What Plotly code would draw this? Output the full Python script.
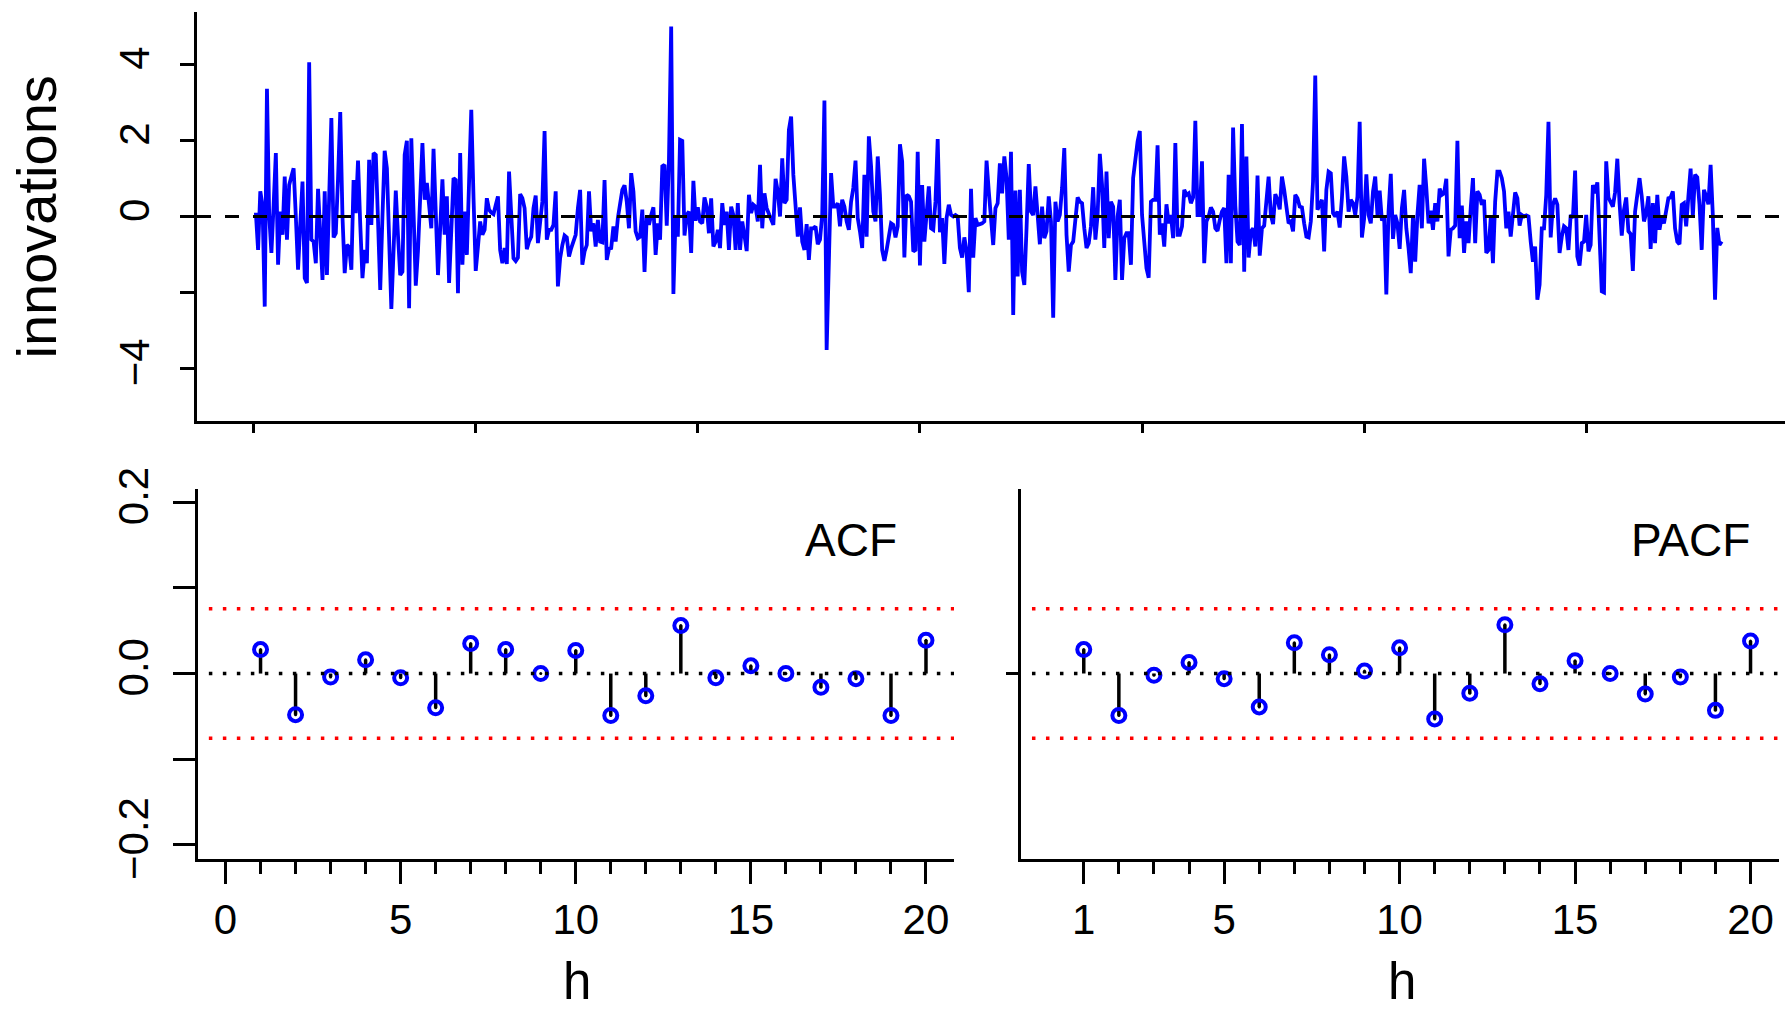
import plotly.graph_objects as go

# ---------------- data ----------------
innov = [
 0.10,-0.88,0.66,0.30,-2.37,3.36,0.04,-0.96,0.30,1.67,
 -1.27,0.13,-0.48,1.05,-0.61,0.83,1.05,1.27,0.00,-1.40,
 -0.20,0.92,-1.62,-1.75,4.06,-0.61,-0.66,-1.23,0.73,-0.50,
 -1.67,0.66,-1.54,0.50,2.59,-0.55,-0.44,1.00,2.75,0.00,
 -1.49,-0.75,-0.80,-1.40,0.96,0.09,1.47,-0.20,-1.62,-0.88,
 -1.23,1.49,-0.22,1.67,1.62,-0.10,-1.93,0.00,1.73,1.27,
 -0.60,-2.43,-0.90,0.68,-0.50,-1.54,-1.45,1.62,1.99,-2.41,
 2.06,0.20,-1.82,-0.90,0.50,1.93,0.44,0.88,0.30,-0.31,
 1.78,0.10,-1.54,-0.30,0.98,-0.48,0.53,-1.75,-0.30,1.01,
 0.96,-2.02,1.67,-1.27,0.13,-1.01,0.90,2.81,0.50,-1.43,
 -0.80,-0.13,-0.48,-0.35,0.48,0.18,0.10,0.06,0.30,0.53,
 -0.88,-1.23,-0.83,-1.25,1.18,0.22,-1.10,-1.17,-1.08,0.59,
 0.48,0.22,-0.86,-0.66,-0.53,0.22,0.55,-0.70,-0.06,0.39,
 2.25,-0.61,-0.35,-0.35,-0.22,0.66,-1.84,-1.10,-0.75,-0.50,
 -0.55,-1.05,-0.83,-0.66,-0.48,0.22,0.70,-1.27,-0.92,-0.75,
 0.66,-0.39,-0.18,-0.79,-0.09,-0.66,-0.68,0.96,-1.14,-0.85,
 -0.83,-0.26,-0.66,-0.04,0.39,0.70,0.82,0.39,-0.31,1.14,
 0.66,-0.39,-0.57,-0.53,0.18,-1.46,0.00,-0.22,0.04,0.24,
 -1.01,-0.18,-0.61,1.32,1.36,-0.24,1.50,5.00,-2.04,0.04,
 -0.53,2.02,1.99,-0.50,0.04,0.13,-0.96,0.94,-0.11,0.24,
 -0.13,-0.18,0.50,0.26,-0.44,0.48,-0.79,-0.66,-0.35,-0.83,
 0.35,-0.22,0.13,-0.88,0.26,0.04,-0.88,0.35,-0.88,-0.13,
 -0.50,-0.91,0.57,0.09,0.31,0.26,-0.13,1.36,-0.31,0.61,
 0.22,0.09,-0.10,-0.22,0.99,0.66,0.00,1.53,0.35,0.44,
 2.28,2.63,1.10,0.13,-0.53,0.24,-0.66,-0.88,-0.20,-1.14,
 -0.31,-0.31,-0.26,-0.73,-0.61,0.04,3.05,-3.51,-1.00,1.14,
 0.26,0.26,0.35,-0.26,0.44,0.26,-0.13,-0.35,0.39,0.75,
 1.47,-0.04,-0.39,-0.83,1.10,-0.53,2.11,1.32,0.13,-0.13,
 1.58,0.57,-0.88,-1.17,-0.88,-0.48,-0.18,-0.22,-0.55,-0.26,
 1.90,1.45,-1.08,0.57,0.53,0.39,-0.92,-0.88,1.70,-1.29,
 0.83,-0.66,-0.04,0.79,-0.31,-0.35,0.39,2.04,-0.41,-0.04,
 -1.25,-0.04,0.31,0.04,0.00,0.04,0.00,-0.83,-1.08,-0.55,
 -0.92,-1.99,0.73,-1.08,-0.04,-0.22,-0.20,-0.18,-0.13,1.47,
 0.66,0.00,-0.75,0.22,0.35,1.40,0.61,1.58,1.01,-0.61,
 1.70,-2.59,0.68,-1.58,0.70,-1.45,-1.80,-0.31,1.38,0.13,
 0.04,0.79,-0.13,-0.73,0.26,-0.57,-0.39,0.53,-0.13,-2.66,
 0.39,-0.13,0.04,0.75,1.80,-0.48,-1.45,-0.75,-0.66,-0.13,
 0.50,0.39,0.35,-0.31,-0.83,-0.70,-0.26,0.77,-0.61,0.04,
 1.65,0.83,-0.83,1.18,-0.57,0.39,0.26,-1.67,0.00,0.44,
 -1.67,-0.57,-0.44,-0.44,-1.27,1.01,1.53,1.97,2.25,0.04,
 -0.66,-1.36,-1.61,0.39,0.44,0.44,1.87,-0.48,-0.18,-0.79,
 0.32,-0.18,0.04,-0.57,1.93,-0.48,-0.48,-0.26,0.70,0.57,
 0.61,0.35,0.50,2.52,0.04,0.04,1.45,-1.23,-0.13,0.00,
 0.24,0.13,-0.31,-0.38,-0.09,0.13,0.22,-1.23,1.10,-1.23,
 2.34,0.30,-0.66,-0.75,2.43,-1.45,1.58,-1.08,-0.39,-0.31,
 -0.79,1.08,-1.03,-0.31,-0.24,0.39,1.05,0.04,-0.20,0.59,
 0.44,0.19,1.05,0.70,0.32,-0.18,-0.13,-0.39,0.57,0.48,
 0.26,0.24,-0.18,-0.53,-0.55,-0.13,0.92,3.71,0.18,0.31,
 0.44,-0.92,0.70,1.18,1.14,0.09,0.00,0.13,-0.29,0.48,
 1.58,1.05,0.13,0.44,0.35,0.04,0.53,2.49,-0.55,-0.06,
 1.11,0.04,-0.18,0.66,1.05,0.04,0.68,-0.11,0.00,-2.05,
 0.13,1.12,-0.59,0.04,-0.18,-0.85,0.22,0.70,-0.31,-0.83,
 -1.49,0.03,-1.19,0.04,0.83,-0.31,1.52,0.75,-0.18,0.15,
 -0.35,0.35,-0.13,0.73,0.57,0.61,0.99,-1.05,-0.35,-0.31,
 -0.24,1.99,-0.57,0.29,-0.96,-0.13,-0.70,0.22,1.01,-0.70,
 0.66,0.57,0.31,0.44,-0.96,-0.88,-0.04,-1.23,0.39,1.18,
 1.18,1.01,0.66,-0.31,0.13,-0.53,0.13,0.63,0.48,-0.24,
 0.04,0.00,0.03,0.00,-0.66,-1.19,-0.79,-2.19,-1.80,-0.31,
 -0.31,0.57,2.49,-0.55,0.31,0.48,0.31,-0.96,-0.53,-0.26,
 -0.31,-0.88,0.04,-0.04,1.21,-1.05,-1.29,-0.70,-0.66,0.04,
 -0.92,-0.75,0.83,0.61,0.90,-0.83,-1.97,-2.00,1.45,0.50,
 0.39,0.26,0.64,1.52,0.35,-0.50,0.18,0.50,-0.39,-0.46,
 -1.43,0.13,0.57,1.01,0.53,-0.13,0.09,0.53,-0.85,0.35,
 -0.70,0.57,-0.35,0.00,-0.18,0.13,0.48,0.50,0.66,-0.31,
 -0.66,-0.73,0.31,0.35,-0.26,0.53,1.26,0.00,1.10,1.03,
 0.31,-0.88,0.70,0.53,0.32,1.36,0.04,-2.19,-0.30,-0.75,
 -0.66,
]
time_idx = list(range(1, len(innov) + 1))

lags = list(range(1, 21))
acf_vals = [0.028, -0.048, -0.004, 0.016, -0.005, -0.040, 0.035, 0.028, 0.000, 0.027,
            -0.049, -0.026, 0.056, -0.005, 0.009, 0.000, -0.016, -0.006, -0.049, 0.039]
pacf_vals = [0.028, -0.049, -0.002, 0.013, -0.006, -0.039, 0.036, 0.022, 0.003, 0.030,
             -0.053, -0.023, 0.057, -0.012, 0.015, 0.000, -0.024, -0.004, -0.043, 0.038]
conf_bound = 0.0757

top_xticks = [0, 100, 200, 300, 400, 500, 600]
top_yticks = [-4, -2, 0, 2, 4]
top_yticktext = ["\u22124", "", "0", "2", "4"]
acf_yticks = [-0.2, -0.1, 0.0, 0.1, 0.2]
acf_yticktext = ["\u22120.2", "", "0.0", "", "0.2"]
acf_xticks = [0, 5, 10, 15, 20]
pacf_xticks = [1, 5, 10, 15, 20]

# ---------------- layout helpers ----------------
W, H = 1790, 1012
FONT = "Liberation Sans, Arial, Helvetica, sans-serif"
BLUE = "#0000FF"


def px(x):
    return x / W


def py(y):
    return 1 - y / H


fig = go.Figure()

# top: innovations series
fig.add_trace(go.Scatter(x=time_idx, y=innov, mode="lines",
                         line=dict(color=BLUE, width=3.8),
                         xaxis="x", yaxis="y", hoverinfo="skip"))


def stems(xs, ys):
    sx, sy = [], []
    for a, b in zip(xs, ys):
        sx += [a, a, None]
        sy += [0, b, None]
    return sx, sy


for vals, xa, ya in [(acf_vals, "x2", "y2"), (pacf_vals, "x3", "y3")]:
    sx, sy = stems(lags, vals)
    fig.add_trace(go.Scatter(x=sx, y=sy, mode="lines",
                             line=dict(color="black", width=3.5),
                             xaxis=xa, yaxis=ya, hoverinfo="skip"))
    fig.add_trace(go.Scatter(x=lags, y=vals, mode="markers",
                             marker=dict(symbol="circle-open", size=13,
                                         color=BLUE, line=dict(color=BLUE, width=4)),
                             xaxis=xa, yaxis=ya, hoverinfo="skip"))
    fig.add_trace(go.Scatter(x=lags, y=vals, mode="markers",
                             marker=dict(symbol="circle", size=3, color="black"),
                             xaxis=xa, yaxis=ya, hoverinfo="skip"))

shapes = [
    dict(type="line", xref="x domain", x0=0, x1=1, yref="y", y0=0, y1=0,
         line=dict(color="black", width=3.2, dash="14px,14px")),
]
for xa, ya in [("x2", "y2"), ("x3", "y3")]:
    shapes.append(dict(type="line", xref=xa + " domain", x0=0.015, x1=1, yref=ya, y0=0, y1=0,
                       line=dict(color="black", width=3.5, dash="3.5px,10.5px")))
    for s in (conf_bound, -conf_bound):
        shapes.append(dict(type="line", xref=xa + " domain", x0=0.015, x1=1, yref=ya, y0=s, y1=s,
                           line=dict(color="red", width=3.5, dash="3.5px,10.5px")))

axis_common = dict(showgrid=False, zeroline=False, showline=True, linecolor="black",
                   linewidth=3, ticks="outside", tickcolor="black", tickwidth=3,
                   automargin=False,
                   tickfont=dict(family=FONT, size=42, color="black"))

minor_acf = [i for i in range(0, 21) if i not in acf_xticks]
minor_pacf = [i for i in range(1, 21) if i not in pacf_xticks]

fig.update_layout(
    template="none",
    width=W, height=H, margin=dict(l=0, r=0, t=0, b=0, pad=0), autosize=False,
    paper_bgcolor="white", plot_bgcolor="white", showlegend=False,
    font=dict(family=FONT, color="black"),
    xaxis=dict(domain=[px(197), px(1785)], range=[-25.5, 689.5], anchor="y",
               tickmode="array", tickvals=top_xticks, showticklabels=False,
               ticklen=9, **axis_common),
    yaxis=dict(domain=[py(421), py(12)], range=[-5.38, 5.38], anchor="x",
               tickmode="array", tickvals=top_yticks, ticktext=top_yticktext,
               tickangle=-90, ticklen=14, ticklabelstandoff=14, **axis_common),
    xaxis2=dict(domain=[px(197.5), px(954)], range=[-0.8, 20.8], anchor="y2",
                tickmode="array", tickvals=acf_xticks, ticklen=22,
                minor=dict(tickmode="array", tickvals=minor_acf, ticklen=12,
                           tickwidth=3, tickcolor="black", ticks="outside"),
                **axis_common),
    yaxis2=dict(domain=[py(858.5), py(488.6)], range=[-0.216, 0.216], anchor="x2",
                tickmode="array", tickvals=acf_yticks, ticktext=acf_yticktext,
                tickangle=-90, ticklen=22, ticklabelstandoff=8, **axis_common),
    xaxis3=dict(domain=[px(1020.6), px(1778.6)], range=[-0.8, 20.8], anchor="y3",
                tickmode="array", tickvals=pacf_xticks, ticklen=22,
                minor=dict(tickmode="array", tickvals=minor_pacf, ticklen=12,
                           tickwidth=3, tickcolor="black", ticks="outside"),
                **axis_common),
    yaxis3=dict(domain=[py(858.5), py(488.6)], range=[-0.216, 0.216], anchor="x3",
                tickmode="array", tickvals=[0.0], ticktext=[""],
                ticklen=12, **axis_common),
    shapes=shapes,
    annotations=[
        dict(text="innovations", x=px(36.5), y=py(217), xref="paper", yref="paper",
             textangle=-90, showarrow=False, xanchor="center", yanchor="middle",
             font=dict(family=FONT, size=56, color="black")),
        dict(text="h", x=px(576.5), y=py(981), xref="paper", yref="paper",
             showarrow=False, xanchor="center", yanchor="middle",
             font=dict(family=FONT, size=51, color="black")),
        dict(text="h", x=px(1402), y=py(981), xref="paper", yref="paper",
             showarrow=False, xanchor="center", yanchor="middle",
             font=dict(family=FONT, size=51, color="black")),
        dict(text="ACF", x=px(898.5), y=py(540), xref="paper", yref="paper",
             showarrow=False, xanchor="right", yanchor="middle",
             font=dict(family=FONT, size=46, color="black")),
        dict(text="PACF", x=px(1752), y=py(540), xref="paper", yref="paper",
             showarrow=False, xanchor="right", yanchor="middle",
             font=dict(family=FONT, size=46, color="black")),
    ],
)

fig.write_html("out.html", config={"displayModeBar": False},
               post_script="document.body.style.margin='0';document.body.style.overflow='hidden';")
